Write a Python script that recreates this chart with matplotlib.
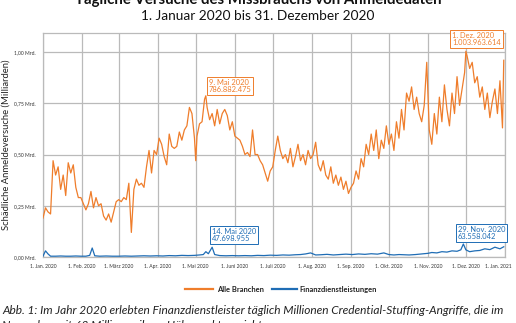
import numpy as np
import matplotlib.pyplot as plt
import matplotlib.transforms as mtransforms

# Tage seit 1. Januar 2020 und Werte in Milliarden
alle_tage = [0, 2, 4, 6, 8, 10, 12, 14, 16, 18, 20, 22, 24, 26, 28, 30, 32, 34, 36, 38,
             40, 42, 44, 46, 48, 50, 52, 54, 56, 58, 60, 62, 64, 66, 68, 70, 72, 74, 76, 78,
             80, 82, 84, 86, 88, 90, 92, 94, 96, 98, 100, 102, 104, 106, 108, 110, 112, 114,
             116, 118, 120, 121, 122, 124, 126, 128, 129, 130, 132, 134, 136, 138, 140, 142,
             144, 146, 148, 150, 152, 154, 156, 158, 160, 162, 164, 166, 168, 170, 172, 174,
             176, 178, 180, 182, 184, 186, 188, 190, 192, 194, 196, 198, 200, 202, 204, 206,
             208, 210, 212, 214, 216, 218, 220, 222, 224, 226, 228, 230, 232, 234, 236, 238,
             240, 242, 244, 246, 248, 250, 252, 254, 256, 258, 260, 262, 264, 266, 268, 270,
             272, 274, 276, 278, 280, 282, 284, 286, 288, 290, 292, 294, 296, 298, 300, 302,
             304, 306, 308, 310, 312, 314, 316, 318, 320, 322, 324, 326, 328, 330, 332, 334,
             335, 336, 338, 340, 342, 344, 346, 348, 350, 352, 354, 356, 358, 360, 362, 364, 365]
alle_werte = [0.19, 0.24, 0.22, 0.21, 0.47, 0.40, 0.44, 0.33, 0.40, 0.30, 0.46, 0.41, 0.45, 0.34,
              0.29, 0.29, 0.26, 0.23, 0.26, 0.32, 0.24, 0.29, 0.25, 0.26, 0.20, 0.18, 0.21, 0.17,
              0.22, 0.27, 0.28, 0.27, 0.29, 0.28, 0.36, 0.12, 0.33, 0.38, 0.35, 0.36, 0.34, 0.44,
              0.52, 0.41, 0.52, 0.50, 0.58, 0.55, 0.49, 0.45, 0.60, 0.54, 0.53, 0.54, 0.61, 0.57,
              0.62, 0.64, 0.73, 0.70, 0.58, 0.47, 0.59, 0.65, 0.66, 0.77, 0.786882475, 0.73, 0.67,
              0.70, 0.64, 0.72, 0.65, 0.70, 0.72, 0.69, 0.62, 0.66, 0.59, 0.58, 0.57, 0.54, 0.50,
              0.51, 0.49, 0.62, 0.50, 0.50, 0.47, 0.45, 0.41, 0.37, 0.42, 0.44, 0.52, 0.59, 0.52,
              0.48, 0.50, 0.46, 0.53, 0.44, 0.49, 0.55, 0.47, 0.50, 0.45, 0.52, 0.48, 0.50, 0.56,
              0.45, 0.42, 0.47, 0.40, 0.38, 0.44, 0.36, 0.40, 0.35, 0.39, 0.33, 0.37, 0.31, 0.34,
              0.36, 0.42, 0.38, 0.48, 0.44, 0.55, 0.50, 0.60, 0.52, 0.62, 0.48, 0.57, 0.53, 0.64,
              0.55, 0.60, 0.52, 0.66, 0.58, 0.72, 0.62, 0.80, 0.76, 0.83, 0.72, 0.78, 0.70, 0.66,
              0.74, 0.95, 0.62, 0.55, 0.70, 0.60, 0.78, 0.66, 0.84, 0.72, 0.64, 0.80, 0.70, 0.88,
              0.74, 0.82, 0.90, 1.003963614, 0.98, 0.92, 0.95, 0.85, 0.88, 0.78, 0.83, 0.72, 0.80,
              0.68, 0.76, 0.82, 0.70, 0.86, 0.63, 0.96]

fin_tage = [0, 2, 4, 6, 10, 14, 18, 22, 26, 30, 34, 37, 39, 41, 45, 50, 55, 60, 65, 70, 75, 80,
            85, 90, 95, 100, 105, 110, 115, 120, 124, 127, 129, 131, 134, 136, 140, 145, 150,
            155, 160, 165, 170, 175, 180, 185, 190, 195, 200, 204, 208, 212, 216, 220, 225, 230,
            235, 240, 245, 250, 255, 260, 265, 270, 274, 278, 282, 286, 290, 295, 300, 305, 308,
            312, 316, 320, 324, 328, 331, 333, 335, 338, 342, 346, 350, 354, 358, 362, 365]
fin_werte = [0.004, 0.03, 0.015, 0.004, 0.004, 0.005, 0.004, 0.004, 0.005, 0.004, 0.004, 0.008,
             0.044, 0.006, 0.004, 0.005, 0.004, 0.004, 0.005, 0.004, 0.005, 0.006, 0.005, 0.006,
             0.005, 0.007, 0.006, 0.008, 0.007, 0.008, 0.010, 0.012, 0.026, 0.016, 0.047698955,
             0.012, 0.007, 0.006, 0.007, 0.006, 0.007, 0.006, 0.008, 0.007, 0.009, 0.008, 0.010,
             0.009, 0.011, 0.012, 0.015, 0.020, 0.010, 0.011, 0.013, 0.010, 0.012, 0.014, 0.012,
             0.015, 0.013, 0.016, 0.014, 0.020, 0.012, 0.010, 0.012, 0.011, 0.010, 0.012, 0.015,
             0.018, 0.022, 0.020, 0.026, 0.024, 0.030, 0.028, 0.035, 0.063558042, 0.035, 0.026,
             0.030, 0.032, 0.040, 0.036, 0.048, 0.040, 0.050]

y_ticks = [0.0, 0.25, 0.5, 0.75, 1.0]
y_labels = ['0,00 Mrd.', '0,25 Mrd.', '0,50 Mrd.', '0,75 Mrd.', '1,00 Mrd.']
x_labels = ['1. Jan. 2020', '1. Feb. 2020', '1. März 2020', '1. Apr. 2020', '1. Mai 2020',
            '1. Juni 2020', '1. Juli 2020', '1. Aug. 2020', '1. Sep. 2020', '1. Okt. 2020',
            '1. Nov. 2020', '1. Dez. 2020', '1. Jan. 2021']

# Hervorgehobene Spitzenwerte: (Tag, Wert, Beschriftung, Versatz in pt)
spitzen_alle = [(129, 786882475, '9. Mai 2020', (2, 2)),
                (335, 1003963614, '1. Dez. 2020', (-10, 4))]
spitzen_fin = [(134, 47698955, '14. Mai 2020', (0, 4)),
               (333, 63558042, '29. Nov. 2020', (-4, 3))]

ORANGE = '#ef7d2b'
BLAU = '#1f6db5'
plt.rcParams['font.family'] = ['Lato', 'DejaVu Sans']

start = np.datetime64('2020-01-01')


def zu_datum(tage):
    return start + np.array(tage, dtype='timedelta64[D]')


fig = plt.figure(figsize=(5.16, 3.23), dpi=100)
ax = fig.add_axes([0.0833, 0.2043, 0.8954, 0.6935])

ax.plot(zu_datum(alle_tage), alle_werte, color=ORANGE, lw=0.9, zorder=3)
ax.plot(zu_datum(fin_tage), fin_werte, color=BLAU, lw=0.9, zorder=3)

ax.set_xlim(start, np.datetime64('2021-01-01'))
ax.set_ylim(0, 1.093)

monate = np.arange('2020-01', '2021-02', dtype='datetime64[M]').astype('datetime64[D]')
ax.set_xticks(monate)
ax.set_xticklabels(x_labels, fontsize=3.6, color='#333333')
ax.set_yticks(y_ticks)
ax.set_yticklabels(y_labels, fontsize=3.6, color='#333333')
ax.tick_params(length=0, pad=5)
# letzte Datumsbeschriftung etwas nach links, damit sie im Bild bleibt
letzte = ax.get_xticklabels()[-1]
letzte.set_transform(letzte.get_transform() +
                     mtransforms.ScaledTranslation(-5 / 72, 0, fig.dpi_scale_trans))
ax.grid(True, color='#bababa', lw=0.9)
ax.set_axisbelow(True)
for s in ax.spines.values():
    s.set_color('#bababa')
    s.set_linewidth(0.9)

ax.set_ylabel('Schädliche Anmeldeversuche (Milliarden)', fontsize=6.8, color='#222222')
ax.yaxis.set_label_coords(-0.07, 0.5)


def markiere(spitzen, farbe):
    for tag, wert, datum, versatz in spitzen:
        zahl = f'{wert:,}'.replace(',', '.')
        ax.annotate(f'{datum}\n{zahl}', xy=(zu_datum([tag])[0], wert / 1e9),
                    xytext=versatz, textcoords='offset points', ha='left', va='bottom',
                    fontsize=5.4, color=farbe, linespacing=1.0, zorder=5,
                    bbox=dict(boxstyle='square,pad=0.25', fc='white', ec=farbe, lw=0.7))


markiere(spitzen_alle, ORANGE)
markiere(spitzen_fin, BLAU)

fig.text(0.5, 1.0, 'Tägliche Versuche des Missbrauchs von Anmeldedaten', ha='center',
         va='center', fontsize=10.8, fontweight='bold', color='#111111')
fig.text(0.5, 0.951, '1. Januar 2020 bis 31. Dezember 2020', ha='center', va='center',
         fontsize=9.8, color='#111111')

# Legende unter der Grafik
fig.add_artist(plt.Line2D([0.358, 0.413], [0.105, 0.105], color=ORANGE, lw=1.6))
fig.text(0.420, 0.105, 'Alle Branchen', fontsize=5.4, fontweight='bold', va='center',
         color='#222222')
fig.add_artist(plt.Line2D([0.527, 0.576], [0.105, 0.105], color=BLAU, lw=1.6))
fig.text(0.580, 0.105, 'Finanzdienstleistungen', fontsize=5.4, fontweight='bold',
         va='center', color='#222222')

fig.text(0.004, 0.040, 'Abb. 1: Im Jahr 2020 erlebten Finanzdienstleister täglich Millionen '
         'Credential-Stuffing-Angriffe, die im', fontsize=8.6, style='italic',
         va='center', color='#222222')
fig.text(0.004, -0.008, 'November mit 63 Millionen ihren Höhepunkt erreichten.', fontsize=8.6,
         style='italic', va='center', color='#222222')

fig.savefig('out.png', dpi=100)
